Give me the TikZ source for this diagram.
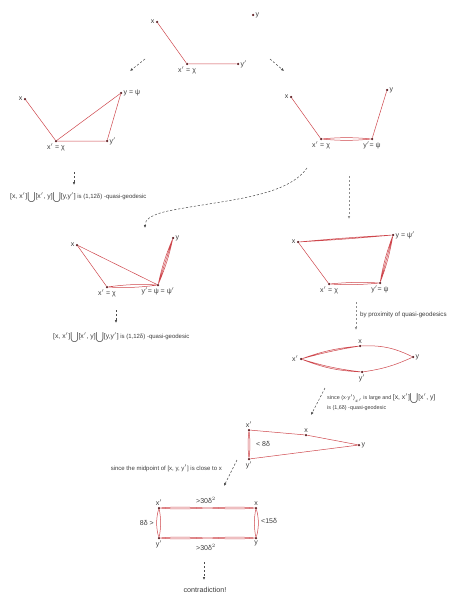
\documentclass[tikz,border=0pt]{standalone}
\usepackage{fontspec}
\setmainfont{Liberation Sans}
\usetikzlibrary{arrows.meta,positioning}
\definecolor{geored}{RGB}{206,70,76}
\definecolor{dotc}{RGB}{95,30,34}
\definecolor{txtc}{RGB}{60,60,60}

\tikzset{
  pt/.style={circle,fill=dotc,inner sep=0pt,minimum size=2.5pt},
  geod/.style={geored,line width=0.5pt},
  lbl/.style={font=\fontsize{7}{8}\selectfont,text=txtc,inner sep=1pt},
  note/.style={font=\fontsize{6}{7}\selectfont,text=txtc,inner sep=0pt},
  flow/.style={dashed,dash pattern=on 2.2pt off 1.8pt,black!70,line width=0.5pt,
    -{Latex[length=3pt,width=2.6pt]}}
}
\newcommand{\bigtxt}{\fontsize{6.8}{8}\selectfont}

\begin{document}
\begin{tikzpicture}[x=1pt,y=-1pt]
  \useasboundingbox (0,0) rectangle (456,602);

  % The starting configuration
  \node[pt,label={[lbl]left:x}] (tx) at (157,22) {};
  \node[pt,label={[lbl]below:x$'$ = χ}] (txp) at (187,64) {};
  \node[pt,label={[lbl]right:y$'$}] (typ) at (238,64) {};
  \node[pt,label={[lbl]right:y}] (ty) at (253,15) {};
  \draw[geod] (tx) -- (txp) -- (typ);

  \coordinate (s1) at (145,59); \coordinate (e1) at (130,71);
  \coordinate (s2) at (270,59); \coordinate (e2) at (284,71);
  \draw[flow] (s1) -- (e1);
  \draw[flow] (s2) -- (e2);

  % Case one: y = psi
  \node[pt,label={[lbl]left:x}] (ax) at (25,99) {};
  \node[pt,label={[lbl]below:x$'$ = χ}] (axp) at (56,141) {};
  \node[pt,label={[lbl]right:y$'$}] (ayp) at (107,141) {};
  \node[pt,label={[lbl]right:y = ψ}] (ay) at (121,93) {};
  \draw[geod] (ax) -- (axp) -- (ayp) -- (ay) -- (axp);

  \coordinate (s3) at (74,172); \coordinate (e3) at (74,185);
  \draw[flow] (s3) -- (e3);
  \node[note,anchor=west] (qg1) at (10,197)
    {{\bigtxt [x, x$'$]$\bigcup$[x$'$, y]$\bigcup$[y,y$'$]} is (1,12δ) -quasi-geodesic};

  % Case two: y' = psi
  \node[pt,label={[lbl]left:x}] (bx) at (291,97) {};
  \node[pt,label={[lbl]below:x$'$ = χ}] (bxp) at (321,139) {};
  \node[pt,label={[lbl]below:y$'$= ψ}] (byp) at (372,139) {};
  \node[pt,label={[lbl]right:y}] (by) at (387,90) {};
  \draw[geod] (bx) -- (bxp);
  \draw[geod] (by) -- (byp);
  \draw[geod] (bxp) to[bend left=5] (byp) (bxp) to[bend right=5] (byp);

  \coordinate (s4) at (307,168); \coordinate (e4) at (145,228);
  \draw[flow] (s4) .. controls (286,198) and (222,200) .. (168,211)
    .. controls (150,215) and (145,220) .. (e4);
  \coordinate (s5) at (349,176); \coordinate (e5) at (349,219);
  \draw[flow,black!45,line width=0.8pt] (s5) -- (e5);

  % Case two, y = psi'
  \node[pt,label={[lbl]left:x}] (cx) at (77,245) {};
  \node[pt,label={[lbl]below:x$'$ = χ}] (cxp) at (107,287) {};
  \node[pt,label={[lbl]below:y$'$= ψ = ψ$'$}] (cyp) at (158,285) {};
  \node[pt,label={[lbl]right:y}] (cy) at (173,238) {};
  \draw[geod] (cx) -- (cxp);
  \draw[geod] (cx) -- (cyp);
  \draw[geod] (cxp) to[bend left=5] (cyp) (cxp) to[bend right=5] (cyp);
  \draw[geod] (cyp) to[bend left=5] (cy) (cyp) -- (cy) (cyp) to[bend right=5] (cy);

  \coordinate (s6) at (116,310); \coordinate (e6) at (116,323);
  \draw[flow] (s6) -- (e6);
  \node[note,anchor=west] (qg2) at (53,337)
    {{\bigtxt [x, x$'$]$\bigcup$[x$'$, y]$\bigcup$[y,y$'$]} is (1,12δ) -quasi-geodesic};

  % Case two, y' = psi
  \node[pt,label={[lbl]left:x}] (dx) at (298,242) {};
  \node[pt,label={[lbl]below:x$'$ = χ}] (dxp) at (329,284) {};
  \node[pt,label={[lbl]below:y$'$= ψ}] (dyp) at (380,283) {};
  \node[pt,label={[lbl]right:y = ψ$'$}] (dy) at (393,235) {};
  \draw[geod] (dx) to[bend left=1] (dy) (dx) to[bend right=1] (dy);
  \draw[geod] (dx) -- (dxp);
  \draw[geod] (dxp) to[bend left=4] (dyp) (dxp) to[bend right=4] (dyp);
  \draw[geod] (dyp) to[bend left=5] (dy) (dyp) -- (dy) (dyp) to[bend right=5] (dy);

  \coordinate (s7) at (356,302); \coordinate (e7) at (356,330);
  \draw[flow,black!45,line width=0.7pt] (s7) -- (e7);
  \node[note,anchor=west,font=\fontsize{6.2}{7}\selectfont] (prox) at (360,315)
    {by proximity of quasi-geodesics};

  % The thin quadrilateral
  \node[pt,label={[lbl]left:x$'$}] (exp) at (301,359) {};
  \node[pt,label={[lbl]above:x}] (ex) at (360,346) {};
  \node[pt,label={[lbl]right:y}] (ey) at (413,357) {};
  \node[pt,label={[lbl]below:y$'$}] (eyp) at (362,372) {};
  \draw[geod] (exp) to[bend left=7] (ex) (exp) to[bend left=3] (ex);
  \draw[geod] (ex) to[bend left=14] (ey);
  \draw[geod] (exp) to[bend right=9] (eyp) (exp) to[bend right=5] (eyp);
  \draw[geod] (eyp) to[bend right=8] (ey);

  \coordinate (s8) at (325,388); \coordinate (e8) at (311,415);
  \draw[flow] (s8) -- (e8);
  \node[note,anchor=north west,align=left,font=\fontsize{5.4}{6.5}\selectfont] (large) at (327,393)
    {since (x·y$'$)$_{x'}$ is large and {\bigtxt [x, x$'$]$\bigcup$[x$'$, y]}\\[1pt]
     is (1,6δ) -quasi-geodesic};

  % The thin triangle
  \node[pt,label={[lbl]above:x$'$}] (fxp) at (249,430) {};
  \node[pt,label={[lbl]above:x}] (fx) at (306,435) {};
  \node[pt,label={[lbl]right:y}] (fy) at (359,445) {};
  \node[pt,label={[lbl]below:y$'$}] (fyp) at (249,459) {};
  \draw[geod] (fxp) -- (fx) -- (fy) -- (fyp);
  \draw[geod] (fxp) to[bend left=6] (fyp) (fxp) to[bend right=6] (fyp);
  \node[lbl,anchor=west] (eight) at (255,444) {< 8δ};

  \coordinate (s9) at (237,460); \coordinate (e9) at (224,486);
  \draw[flow] (s9) -- (e9);
  \node[note,anchor=east] (mid) at (222,468)
    {since the midpoint of [x, y, y$'$] is close to x};

  % The long rectangle
  \node[pt,label={[lbl]above:x$'$}] (gxp) at (159,508) {};
  \node[pt,label={[lbl]above:x}] (gx) at (256,508) {};
  \node[pt,label={[lbl]below:y}] (gy) at (256,538) {};
  \node[pt,label={[lbl]below:y$'$}] (gyp) at (159,538) {};
  \draw[geod] (gxp) .. controls +(32,-3) and +(-32,3) .. (gx)
              (gxp) .. controls +(32,3) and +(-32,-3) .. (gx);
  \draw[geod] (gyp) .. controls +(32,-3) and +(-32,3) .. (gy)
              (gyp) .. controls +(32,3) and +(-32,-3) .. (gy);
  \draw[geod] (gxp) .. controls +(-3,10) and +(-3,-10) .. (gyp)
              (gxp) .. controls +(2,10) and +(2,-10) .. (gyp);
  \draw[geod] (gx) .. controls +(-2,10) and +(-2,-10) .. (gy)
              (gx) .. controls +(3,10) and +(3,-10) .. (gy);
  \node[lbl] (top) at (206,500) {>30δ$^2$};
  \node[lbl] (bot) at (206,547) {>30δ$^2$};
  \node[lbl,anchor=east] (left) at (155,523) {8δ >};
  \node[lbl,anchor=west] (right) at (260,521) {<15δ};

  \coordinate (s10) at (204,562); \coordinate (e10) at (204,580);
  \draw[flow] (s10) -- (e10);
  \node[lbl,font=\fontsize{7.2}{8}\selectfont] (contra) at (205,590) {contradiction!};
\end{tikzpicture}
\end{document}
